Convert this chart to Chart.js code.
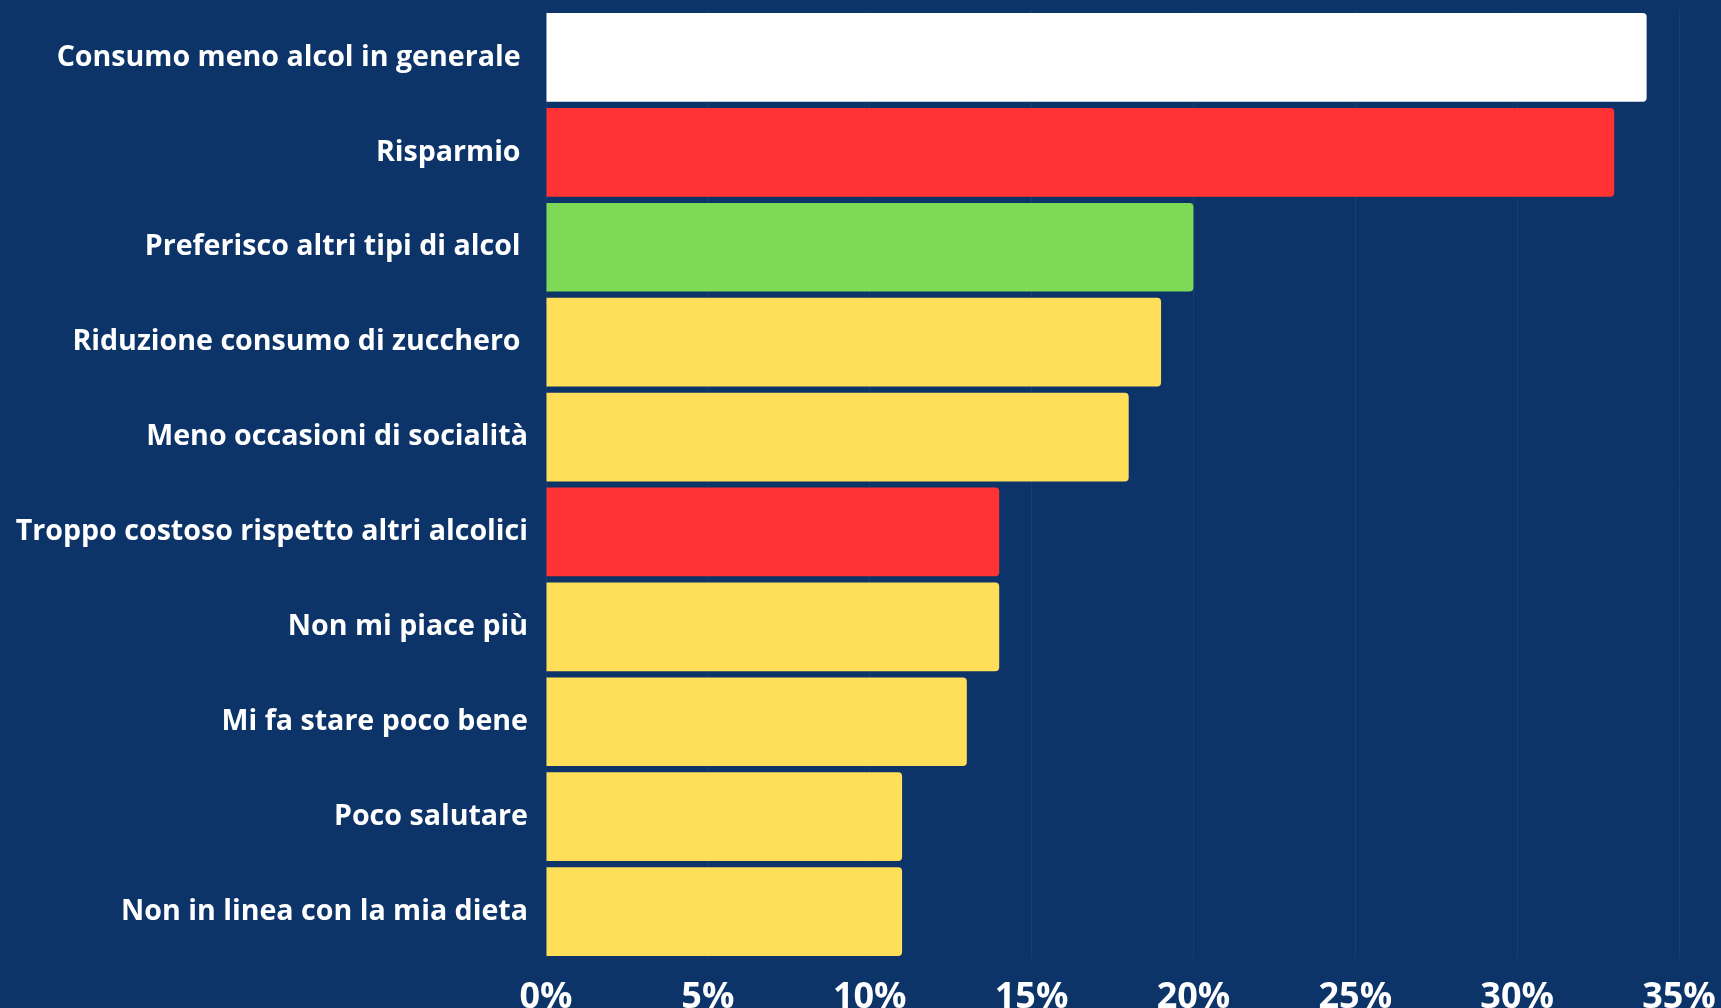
<!DOCTYPE html>
<html>
<head>
<meta charset="utf-8">
<script src="https://cdn.jsdelivr.net/npm/chart.js@4/dist/chart.umd.min.js"></script>
<style>
html,body{margin:0;padding:0;background:#0c3469;}
#wrap{width:1721px;height:1008px;}
</style>
</head>
<body>
<div id="wrap"><canvas id="c" width="1721" height="1008"></canvas></div>
<script>
const categories = [
  "Consumo meno alcol in generale ",
  "Risparmio ",
  "Preferisco altri tipi di alcol ",
  "Riduzione consumo di zucchero ",
  "Meno occasioni di socialità",
  "Troppo costoso rispetto altri alcolici",
  "Non mi piace più",
  "Mi fa stare poco bene",
  "Poco salutare",
  "Non in linea con la mia dieta"
];
const values = [34, 33, 20, 19, 18, 14, 14, 13, 11, 11];
const barColors = ["#ffffff", "#ff3333", "#7ed957", "#ffde59", "#ffde59", "#ff3333", "#ffde59", "#ffde59", "#ffde59", "#ffde59"];
const xTicks = [0, 5, 10, 15, 20, 25, 30, 35];

const FAMILY = '"Open Sans", "DejaVu Sans", sans-serif';

new Chart(document.getElementById('c'), {
  type: 'bar',
  data: {
    labels: categories,
    datasets: [{
      data: values,
      backgroundColor: barColors,
      borderWidth: 0,
      borderRadius: 4,
      borderSkipped: 'start',
      barPercentage: 0.935,
      categoryPercentage: 1.0
    }]
  },
  options: {
    indexAxis: 'y',
    responsive: false,
    animation: false,
    layout: { padding: { top: 0, right: 42, left: 0, bottom: 0 } },
    plugins: { legend: { display: false }, tooltip: { enabled: false } },
    scales: {
      x: {
        min: 0, max: 35,
        afterBuildTicks: s => { s.ticks = xTicks.map(v => ({ value: v })); },
        afterFit: s => { s.height = 49; },
        grid: { color: 'rgba(255,255,255,0.05)', drawTicks: true, tickLength: 17, tickColor: 'rgba(0,0,0,0)', lineWidth: 1 },
        border: { display: false },
        ticks: {
          color: '#ffffff',
          padding: 0,
          maxRotation: 0,
          font: { family: FAMILY, weight: 'bold', size: 36 },
          callback: v => v + '%'
        }
      },
      y: {
        afterFit: s => { s.width = 546; },
        grid: { display: true, drawOnChartArea: false, drawTicks: true, tickLength: 18, color: 'rgba(0,0,0,0)', tickColor: 'rgba(0,0,0,0)' },
        border: { display: false },
        ticks: {
          color: '#ffffff',
          padding: 0,
          autoSkip: false,
          font: { family: FAMILY, weight: 'bold', size: 28.6, lineHeight: 0.7 }
        }
      }
    }
  }
});
</script>
</body>
</html>
